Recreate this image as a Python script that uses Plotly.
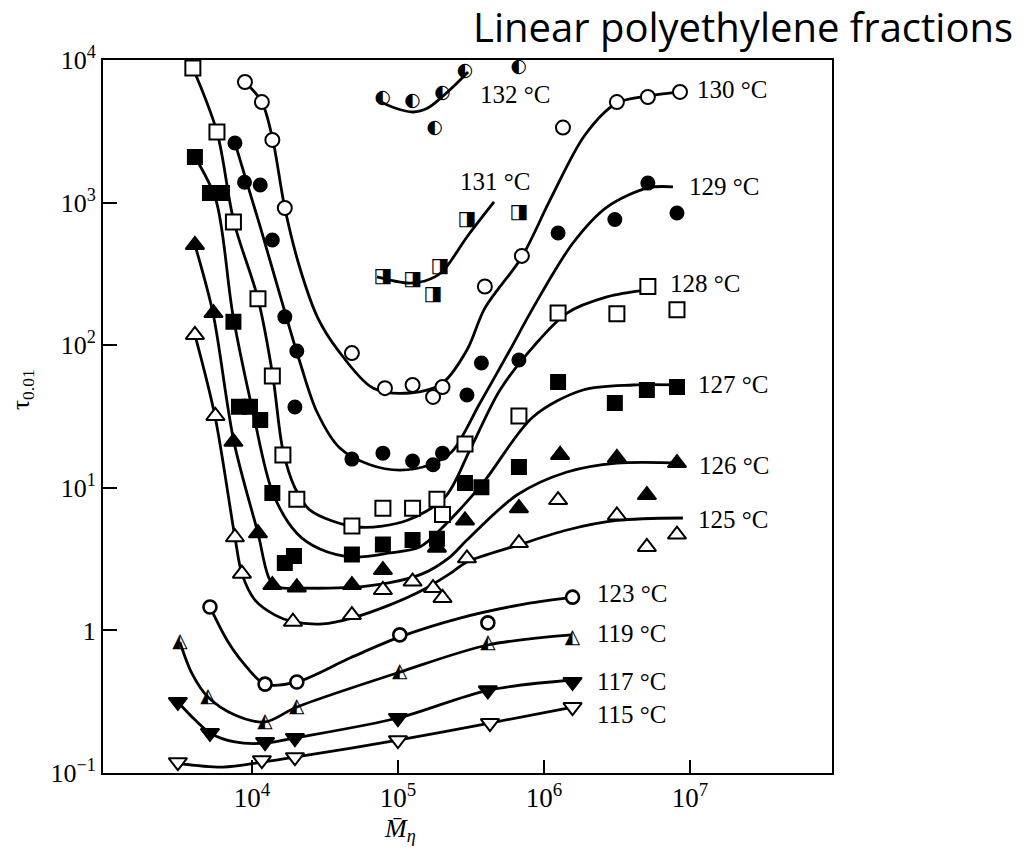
import plotly.graph_objects as go

# ---------------- measured points (M_eta, tau_0.01) ----------------
x130 = [8.96e3, 1.17e4, 1.38e4, 1.68e4, 4.84e4, 8.15e4, 1.26e5, 1.74e5, 2.02e5, 3.94e5, 7.06e5, 1.35e6, 3.16e6, 5.15e6, 8.55e6]
y130 = [7010, 5070, 2750, 916, 88, 50, 52.6, 43.4, 50.9, 258, 423, 3360, 5070, 5500, 5970]

x129 = [7.65e3, 8.9e3, 1.14e4, 1.38e4, 1.68e4, 2.03e4, 1.97e4, 4.84e4, 7.89e4, 1.26e5, 1.74e5, 2.02e5, 2.97e5, 3.73e5, 6.74e5, 1.25e6, 3.06e6, 5.15e6, 8.15e6]
y129 = [2620, 1390, 1330, 547, 158, 91, 36.9, 15.9, 17.5, 15.4, 14.5, 17.5, 44.8, 75, 78.7, 612, 761, 1370, 845]

x128 = [3.94e3, 5.76e3, 7.47e3, 1.10e4, 1.38e4, 1.63e4, 2.03e4, 4.84e4, 7.89e4, 1.26e5, 1.85e5, 2.02e5, 2.88e5, 6.74e5, 1.25e6, 3.16e6, 5.15e6, 8.15e6]
y128 = [8790, 3130, 731, 212, 60.8, 17.0, 8.3, 5.4, 7.2, 7.2, 8.3, 6.5, 20.3, 31.9, 168, 166, 258, 177]

x127 = [4.07e3, 5.16e3, 6.23e3, 7.47e3, 8.15e3, 9.7e3, 1.14e4, 1.38e4, 1.68e4, 1.94e4, 4.84e4, 7.89e4, 1.26e5, 1.85e5, 2.88e5, 3.73e5, 6.74e5, 1.25e6, 3.06e6, 5.07e6, 8.15e6]
y127 = [2090, 1170, 1170, 146, 37, 37, 29.9, 9.2, 2.97, 3.32, 3.4, 4.0, 4.3, 4.4, 10.8, 10.1, 14.0, 55.2, 39.3, 48.5, 50.9]

x126 = [4.07e3, 5.45e3, 7.47e3, 1.10e4, 1.38e4, 2.03e4, 4.84e4, 7.89e4, 1.85e5, 2.88e5, 6.74e5, 1.29e6, 3.16e6, 5.07e6, 8.15e6]
y126 = [505, 168, 21.0, 4.8, 2.08, 2.0, 2.08, 2.65, 3.8, 5.9, 7.2, 17.0, 16.2, 8.9, 14.9]

x125 = [4.07e3, 5.62e3, 7.65e3, 8.54e3, 1.91e4, 4.84e4, 7.89e4, 1.26e5, 1.74e5, 2.02e5, 2.97e5, 6.74e5, 1.25e6, 3.16e6, 5.07e6, 8.15e6]
y125 = [118, 31.9, 4.5, 2.5, 1.15, 1.28, 1.92, 2.2, 1.98, 1.69, 3.2, 4.1, 8.2, 6.4, 3.85, 4.7]

x123 = [5.16e3, 1.23e4, 2.03e4, 1.03e5, 4.13e5, 1.57e6]
y123 = [1.46, 0.42, 0.435, 0.93, 1.13, 1.71]

x119 = [3.21e3, 5.0e3, 1.23e4, 2.03e4, 1.03e5, 4.13e5, 1.57e6]
y119 = [0.83, 0.341, 0.228, 0.29, 0.51, 0.817, 0.885]

x117 = [3.11e3, 5.16e3, 1.23e4, 1.97e4, 1.0e5, 4.13e5, 1.57e6]
y117 = [0.315, 0.191, 0.165, 0.176, 0.243, 0.38, 0.435]

x115 = [3.11e3, 1.17e4, 1.97e4, 1.0e5, 4.27e5, 1.57e6]
y115 = [0.119, 0.123, 0.129, 0.17, 0.224, 0.29]

x132 = [7.89e4, 1.26e5, 2.02e5, 2.88e5, 6.74e5, 1.79e5]
y132 = [5420, 5160, 5870, 8380, 8930, 3300]

x131 = [7.89e4, 1.26e5, 1.94e5, 1.74e5, 2.97e5, 6.74e5]
y131 = [301, 287, 353, 225, 761, 845]

# ---------------- hand-drawn smooth curves ----------------
cx130 = [8.96e3, 1.17e4, 1.39e4, 1.68e4, 2.13e4, 2.83e4, 3.88e4, 6.74e4, 1.21e5, 2.02e5, 2.97e5, 3.94e5, 7.06e5, 1.10e6, 1.91e6, 3.16e6, 5.15e6, 8.55e6]
cy130 = [7010, 5070, 2750, 916, 348, 155, 92.5, 50.1, 46.2, 54.3, 92.5, 182, 416, 1040, 2980, 4990, 5590, 5970]

cx129 = [7.65e3, 1.13e4, 1.63e4, 2.13e4, 2.79e4, 4.0e4, 6.43e4, 1.03e5, 1.66e5, 2.33e5, 3.65e5, 5.85e5, 8.41e5, 1.58e6, 2.70e6, 5.15e6, 7.65e6]
cy129 = [2620, 697, 191, 76.2, 34.0, 19.0, 14.5, 13.3, 14.5, 17.8, 39.3, 92.5, 182, 521, 931, 1270, 1290]

cx128 = [3.94e3, 5.76e3, 7.53e3, 1.10e4, 1.39e4, 1.63e4, 1.97e4, 2.50e4, 5.24e4, 1.15e5, 2.10e5, 3.11e5, 5.0e5, 8.41e5, 1.44e6, 2.70e6, 5.07e6]
cy128 = [8790, 3130, 731, 212, 60.8, 18.4, 10.0, 6.98, 5.31, 5.9, 8.6, 18.4, 48.5, 97, 168, 218, 244]

cx127 = [4.07e3, 5.67e3, 7.41e3, 1.02e4, 1.39e4, 2.03e4, 2.92e4, 4.92e4, 8.81e4, 1.41e5, 1.94e5, 3.82e5, 8.41e5, 1.85e6, 4.07e6, 8.95e6]
cy127 = [2090, 1040, 163, 33.5, 9.2, 4.8, 3.72, 3.27, 3.49, 3.85, 5.06, 10.8, 31.4, 48.5, 52.6, 52.6]

cx126 = [4.07e3, 5.41e3, 7.53e3, 1.10e4, 1.33e4, 1.56e4, 2.03e4, 4.84e4, 8.81e4, 1.48e5, 2.27e5, 2.97e5, 6.53e5, 1.44e6, 3.16e6, 8.95e6]
cy126 = [505, 168, 21.0, 4.8, 2.26, 2.0, 1.98, 2.0, 2.16, 2.5, 3.27, 4.3, 8.9, 12.9, 14.9, 14.9]

cx125 = [4.07e3, 5.58e3, 7.65e3, 8.54e3, 1.05e4, 1.44e4, 1.91e4, 3.06e4, 4.84e4, 8.81e4, 1.48e5, 2.27e5, 2.97e5, 6.85e5, 1.44e6, 3.16e6, 8.95e6]
cy125 = [118, 31.9, 4.5, 2.5, 1.63, 1.28, 1.15, 1.11, 1.22, 1.51, 1.92, 2.5, 3.02, 4.0, 5.06, 5.9, 6.14]

cx123 = [5.16e3, 6.74e3, 8.68e3, 1.23e4, 2.03e4, 4.69e4, 1.03e5, 2.66e5, 6.85e5, 1.58e6]
cy123 = [1.46, 0.857, 0.595, 0.42, 0.435, 0.64, 0.90, 1.22, 1.51, 1.71]

cx119 = [3.21e3, 3.88e3, 5.0e3, 7.65e3, 1.23e4, 2.03e4, 1.03e5, 4.13e5, 1.55e6]
cy119 = [0.83, 0.50, 0.341, 0.255, 0.228, 0.29, 0.51, 0.79, 0.93]

cx117 = [3.11e3, 4.07e3, 5.16e3, 7.65e3, 1.23e4, 1.97e4, 1.0e5, 4.13e5, 1.58e6]
cy117 = [0.315, 0.236, 0.191, 0.165, 0.162, 0.176, 0.243, 0.38, 0.449]

cx115 = [3.11e3, 6.33e3, 1.17e4, 1.97e4, 1.0e5, 4.27e5, 1.58e6]
cy115 = [0.117, 0.110, 0.119, 0.129, 0.17, 0.224, 0.29]

cx132 = [7.18e4, 9.53e4, 1.27e5, 1.60e5, 2.0e5, 2.46e5, 3.02e5]
cy132 = [5240, 4610, 4320, 4610, 5500, 6680, 8240]

cx131 = [7.18e4, 1.15e5, 1.53e5, 2.0e5, 2.97e5, 4.55e5]
cy131 = [301, 273, 282, 326, 574, 1010]

# ---------------- labels ----------------
temp_labels = ["132 °C", "131 °C", "130 °C", "129 °C", "128 °C", "127 °C",
               "126 °C", "125 °C", "123 °C", "119 °C", "117 °C", "115 °C"]
x_ticks = [1e4, 1e5, 1e6, 1e7]
x_ticktext = ["10<sup>4</sup>", "10<sup>5</sup>", "10<sup>6</sup>", "10<sup>7</sup>"]
y_ticks = [0.1, 1, 10, 100, 1000, 10000]
y_ticktext = ["10<sup>\u22121</sup>", "1", "10<sup>1</sup>", "10<sup>2</sup>", "10<sup>3</sup>", "10<sup>4</sup>"]
title_text = "Linear polyethylene fractions"

# ---------------- figure ----------------
W, H = 1028, 859
L, R, T, B = 103, 832, 60, 773  # plot area in pixels

fig = go.Figure()

curves = [(cx130, cy130), (cx129, cy129), (cx128, cy128), (cx127, cy127), (cx126, cy126),
          (cx125, cy125), (cx123, cy123), (cx119, cy119), (cx117, cy117), (cx115, cy115),
          (cx132, cy132), (cx131, cy131)]
for cx, cy in curves:
    fig.add_trace(go.Scatter(x=cx, y=cy, mode="lines", line=dict(color="black", width=2.8, shape="spline", smoothing=0.9),
                             hoverinfo="skip", showlegend=False))

def mk(x, y, symbol, fill, size, lw=2.0):
    fig.add_trace(go.Scatter(x=x, y=y, mode="markers", showlegend=False,
                             marker=dict(symbol=symbol, size=size, color=fill,
                                         line=dict(color="black", width=lw))))

mk(x130, y130, "circle", "white", 14)
mk(x129, y129, "circle", "black", 13)
mk(x128, y128, "square", "white", 15)
mk(x127, y127, "square", "black", 14)
mk(x126, y126, "triangle-up", "black", 16)
mk(x125, y125, "triangle-up", "white", 16)
mk(x123, y123, "circle", "white", 13, 2.6)
mk(x117, y117, "triangle-down", "black", 16)
mk(x115, y115, "triangle-down", "white", 16)

def glyph(x, y, ch, size):
    fig.add_trace(go.Scatter(x=x, y=y, mode="text", text=[ch] * len(x), showlegend=False,
                             textposition="middle center",
                             textfont=dict(family="DejaVu Sans", size=size, color="black")))

glyph(x132, y132, "\u25D0", 19)
glyph(x131, y131, "\u25E8", 20)
glyph(x119, y119, "\u25ED", 20)

def px(xp, yp):
    return (xp - L) / (R - L), (B - yp) / (B - T)

label_pos = [(478, 95), (458, 181), (695, 89), (687, 186), (668, 283), (696, 384),
             (697, 466), (696, 519), (595, 593), (595, 633), (595, 681), (595, 714)]
serif = "Liberation Serif"
for txt, (xp, yp) in zip(temp_labels, label_pos):
    ax_, ay_ = px(xp, yp)
    fig.add_annotation(x=ax_, y=ay_, xref="paper", yref="paper", text=txt, showarrow=False,
                       xanchor="left", yanchor="middle", font=dict(family=serif, size=25, color="black"))

# axis titles
ax_, ay_ = px(400, 830)
fig.add_annotation(x=ax_, y=ay_, xref="paper", yref="paper", text="<i>M\u0304</i><sub><i>\u03b7</i></sub>",
                   showarrow=False, xanchor="center", yanchor="middle", font=dict(family=serif, size=26, color="black"))
ax_, ay_ = px(22, 390)
fig.add_annotation(x=ax_, y=ay_, xref="paper", yref="paper", text="\u03c4<sub>0.01</sub>", textangle=-90,
                   showarrow=False, xanchor="center", yanchor="middle", font=dict(family=serif, size=25, color="black"))
# title
ax_, ay_ = px(1015, 27)
fig.add_annotation(x=ax_, y=ay_, xref="paper", yref="paper", text=title_text, showarrow=False,
                   xanchor="right", yanchor="middle", font=dict(family="Open Sans", size=40, color="black"))

fig.update_xaxes(type="log", range=[2.98, 7.973], tickvals=x_ticks, ticktext=x_ticktext,
                 ticks="inside", ticklen=13, tickwidth=2, tickcolor="black",
                 showline=True, linecolor="black", linewidth=2, mirror=True,
                 showgrid=False, zeroline=False,
                 tickfont=dict(family=serif, size=27, color="black"))
fig.update_yaxes(type="log", range=[-1, 4], tickvals=y_ticks, ticktext=y_ticktext,
                 ticks="inside", ticklen=14, tickwidth=2, tickcolor="black",
                 showline=True, linecolor="black", linewidth=2, mirror=True,
                 showgrid=False, zeroline=False,
                 tickfont=dict(family=serif, size=26, color="black"))

fig.update_layout(width=W, height=H, autosize=False,
                  margin=dict(l=L, r=W - R, t=T, b=H - B, pad=0),
                  paper_bgcolor="white", plot_bgcolor="white", showlegend=False)

fig.write_html("out.html")
